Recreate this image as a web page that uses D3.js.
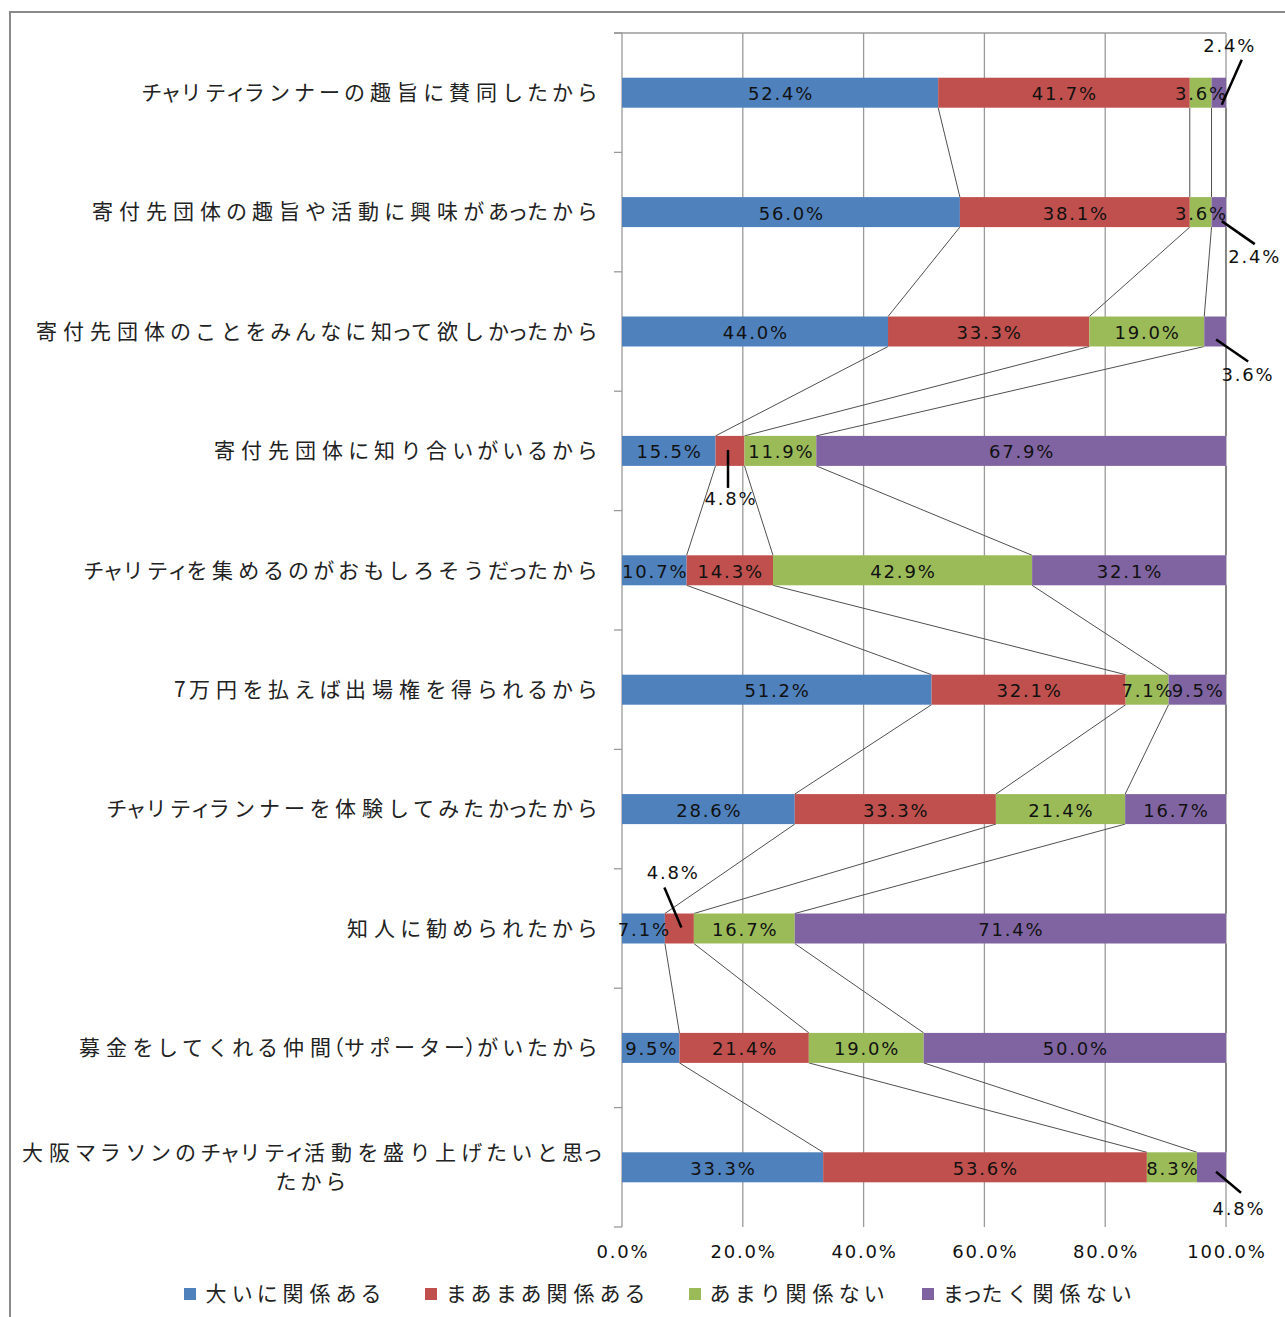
<!DOCTYPE html>
<html>
<head>
<meta charset="utf-8">
<script src="https://cdn.jsdelivr.net/npm/d3@7"></script>
<style>
  html, body { margin: 0; padding: 0; background: #fff; }
  svg { display: block; }
  .jp { font-family: "Noto Sans CJK JP", sans-serif; font-size: 21px; fill: #222; font-feature-settings: "palt"; }
  .num { font-family: "DejaVu Sans", sans-serif; font-size: 18px; letter-spacing: 1.8px; fill: #111; }
</style>
</head>
<body>
<svg id="chart" width="1285" height="1317"></svg>
<script>
// Reasons for joining as a charity runner, share of answers per relevance level (%)
const categories = [
  "チャリティランナーの趣旨に賛同したから",
  "寄付先団体の趣旨や活動に興味があったから",
  "寄付先団体のことをみんなに知って欲しかったから",
  "寄付先団体に知り合いがいるから",
  "チャリティを集めるのがおもしろそうだったから",
  "7万円を払えば出場権を得られるから",
  "チャリティランナーを体験してみたかったから",
  "知人に勧められたから",
  "募金をしてくれる仲間（サポーター）がいたから",
  "大阪マラソンのチャリティ活動を盛り上げたいと思ったから"
];
const seriesNames = ["大いに関係ある", "まあまあ関係ある", "あまり関係ない", "まったく関係ない"];
const veryRelevant   = [52.4, 56.0, 44.0, 15.5, 10.7, 51.2, 28.6, 7.1, 9.5, 33.3];
const fairlyRelevant = [41.7, 38.1, 33.3, 4.8, 14.3, 32.1, 33.3, 4.8, 21.4, 53.6];
const notVery        = [3.6, 3.6, 19.0, 11.9, 42.9, 7.1, 21.4, 16.7, 19.0, 8.3];
const notAtAll       = [2.4, 2.4, 3.6, 67.9, 32.1, 9.5, 16.7, 71.4, 50.0, 4.8];
const axisTicks = [0, 0.2, 0.4, 0.6, 0.8, 1.0];

const colors = ["#4F81BD", "#C0504D", "#9BBB59", "#8064A2"];
const seriesValues = [veryRelevant, fairlyRelevant, notVery, notAtAll];

// labels that sit outside their segment, with a leader line
const calloutLayout = [
  { row: 0, s: 3, dx: 10,   dy: -47, l: [3, 12, 23, -33] },
  { row: 1, s: 3, dx: 35,   dy: 44,  l: [3, 9, 36, 32] },
  { row: 2, s: 3, dx: 32,   dy: 43,  l: [1, 8, 33, 30] },
  { row: 3, s: 1, dx: 0,    dy: 48,  l: [-2, -1, -2, 37] },
  { row: 7, s: 1, dx: -7,   dy: -56, l: [-15, -41, 2, -1] },
  { row: 9, s: 3, dx: 26.5, dy: 41,  l: [4.5, 4.4, 29.5, 25.4] }
];

const svg = d3.select("#chart");

// proportional Japanese text: each character gets its own slot
const SMALL = "ァィゥェォッャュョヮぁぃぅぇぉっゃゅょゎ";
function advance(ch) {
  if (SMALL.includes(ch)) return 14;
  if (ch === "（" || ch === "）") return 8;
  if (/[\x20-\x7e]/.test(ch)) return 12.5;
  if (/[\u4e00-\u9fff]/.test(ch)) return 27;
  return 25;
}
// anchor: "start" (x = left edge), "end" (x = right edge) or "middle"
function jpText(parent, str, xPos, yPos, anchor) {
  const chars = Array.from(str);
  const widths = chars.map(advance);
  const total = d3.sum(widths);
  let left = anchor === "end" ? xPos - total : anchor === "middle" ? xPos - total / 2 : xPos;
  const t = parent.append("text").attr("class", "jp").attr("text-anchor", "middle");
  chars.forEach((ch, k) => {
    t.append("tspan").attr("x", left + widths[k] / 2).attr("y", yPos).attr("dy", "0.35em").text(ch);
    left += widths[k];
  });
  return t;
}

// frame
svg.append("rect").attr("x", 10).attr("y", 12).attr("width", 1400).attr("height", 1400)
  .attr("fill", "none").attr("stroke", "#8a8a8a").attr("stroke-width", 2);

const x = d3.scaleLinear().domain([0, 1]).range([622, 1226]);
const y = d3.scaleBand().domain(categories).range([33, 1227]).padding(0);
const barH = 30;
const cy = c => y(c) + y.bandwidth() / 2;

// normalised stack
const rows = categories.map((c, i) => {
  const vals = seriesValues.map(s => s[i]);
  const total = d3.sum(vals);
  let acc = 0;
  return vals.map((v, s) => {
    const x0 = acc / total; acc += v; const x1 = acc / total;
    return { cat: c, row: i, s, v, x0, x1 };
  });
});

// gridlines
const grid = svg.append("g");
grid.selectAll("line.v").data(axisTicks).join("line")
  .attr("x1", d => x(d)).attr("x2", d => x(d))
  .attr("y1", 33).attr("y2", 1227)
  .attr("stroke", "#9a9a9a").attr("stroke-width", 1.3);
grid.append("line").attr("x1", 614).attr("x2", x(1)).attr("y1", 33).attr("y2", 33)
  .attr("stroke", "#9a9a9a").attr("stroke-width", 1.3);
// category tick marks
const bounds = categories.map(c => y(c)).concat([y.range()[1]]);
grid.selectAll("line.t").data(bounds).join("line")
  .attr("x1", 614).attr("x2", 622).attr("y1", d => d).attr("y2", d => d)
  .attr("stroke", "#9a9a9a").attr("stroke-width", 1.3);

// series lines between consecutive bars
const sl = svg.append("g").attr("stroke", "#505050").attr("stroke-width", 1).attr("fill", "none");
for (let i = 0; i < rows.length - 1; i++) {
  for (let s = 0; s < 4; s++) {
    sl.append("line")
      .attr("x1", x(rows[i][s].x1)).attr("y1", cy(categories[i]) + barH / 2)
      .attr("x2", x(rows[i + 1][s].x1)).attr("y2", cy(categories[i + 1]) - barH / 2);
  }
}

// bars
const segs = rows.flat();
svg.append("g").selectAll("rect").data(segs).join("rect")
  .attr("x", d => x(d.x0)).attr("width", d => x(d.x1) - x(d.x0))
  .attr("y", d => cy(d.cat) - barH / 2).attr("height", barH)
  .attr("fill", d => colors[d.s]);

// category labels (the longest one wraps onto a second, centred line)
const labelRight = 600;
const catG = svg.append("g");
categories.forEach(c => {
  const chars = Array.from(c);
  if (chars.length > 24) {
    jpText(catG, chars.slice(0, 24).join(""), labelRight, cy(c) - 14.5, "end");
    jpText(catG, chars.slice(24).join(""), 311, cy(c) + 14.5, "middle");
  } else {
    jpText(catG, c, labelRight, cy(c), "end");
  }
});

// data labels
const fmt = v => v.toFixed(1) + "%";
const calloutKey = new Map(calloutLayout.map(o => [o.row + "-" + o.s, o]));
const lbl = svg.append("g");
segs.forEach(d => {
  const mx = (x(d.x0) + x(d.x1)) / 2, my = cy(d.cat);
  const co = calloutKey.get(d.row + "-" + d.s);
  if (co) {
    lbl.append("line")
      .attr("x1", mx + co.l[0]).attr("y1", my + co.l[1])
      .attr("x2", mx + co.l[2]).attr("y2", my + co.l[3])
      .attr("stroke", "#000").attr("stroke-width", 2.5);
    lbl.append("text").attr("class", "num").attr("text-anchor", "middle")
      .attr("x", mx + co.dx + 0.9).attr("y", my + co.dy).attr("dy", "0.36em").text(fmt(d.v));
  } else {
    lbl.append("text").attr("class", "num").attr("text-anchor", "middle")
      .attr("x", mx + 0.9).attr("y", my + 1).attr("dy", "0.36em").text(fmt(d.v));
  }
});

// value axis labels
svg.append("g").selectAll("text").data(axisTicks).join("text")
  .attr("class", "num").attr("text-anchor", "middle")
  .attr("x", d => x(d) + 0.9).attr("y", 1252).attr("dy", "0.36em")
  .text(d => (d * 100).toFixed(1) + "%");

// legend
const legendX = [184, 425, 689, 922];
const lg = svg.append("g");
seriesNames.forEach((n, i) => {
  lg.append("rect").attr("x", legendX[i]).attr("y", 1288).attr("width", 12).attr("height", 12).attr("fill", colors[i]);
  jpText(lg, n, legendX[i] + 18.5, 1294, "start");
});
</script>
</body>
</html>
